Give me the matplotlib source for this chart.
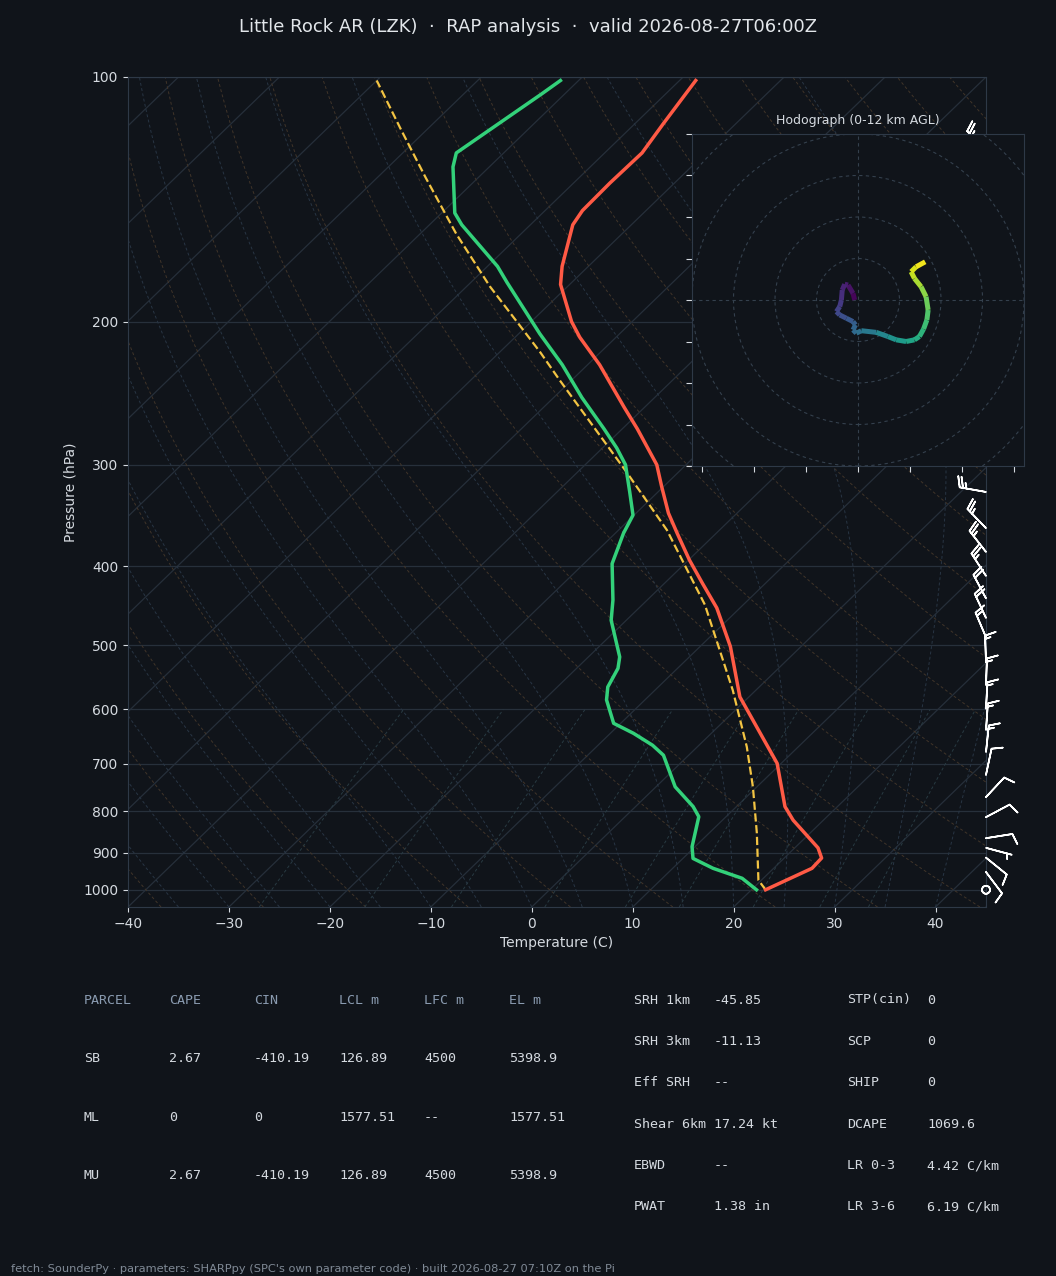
import numpy as np
import matplotlib
matplotlib.use("Agg")
import matplotlib.pyplot as plt
import matplotlib.transforms as mtransforms
from matplotlib.collections import LineCollection
from matplotlib.patches import Circle

BG = "#10141a"
FG = "#d5dae0"
MUTED = "#8a9bb0"
SPINE = "#2e3947"
GRID = "#27303b"

TITLE = "Little Rock AR (LZK)  \u00b7  RAP analysis  \u00b7  valid 2026-08-27T06:00Z"
FOOTER = ("fetch: SounderPy \u00b7 parameters: SHARPpy (SPC's own parameter code) "
          "\u00b7 built 2026-08-27 07:10Z on the Pi")

# --- sounding (hPa / degC) ---
temp_p = [1000, 941, 914, 888, 821, 790, 699, 579, 502, 450, 420, 393, 364, 344,
          319, 300, 271, 255, 226, 209, 200, 180, 171, 152, 146, 135, 124, 114, 101]
temp_c = [21.4, 23.8, 23.7, 22.3, 17.0, 14.8, 9.6, -0.9, -7.0, -12.3, -16.2, -19.9,
          -23.9, -26.8, -30.2, -32.9, -38.5, -42.0, -48.8, -53.6, -56.0, -60.9,
          -62.6, -65.8, -66.3, -66.4, -66.3, -67.2, -68.4]

dewp_p = [1000, 968, 941, 915, 885, 813, 790, 747, 683, 664, 642, 624, 584, 563,
          534, 517, 466, 440, 397, 364, 346, 324, 300, 286, 271, 248, 226, 207,
          179, 171, 152, 147, 129, 124, 105, 101]
dewp_c = [20.5, 17.9, 14.0, 11.0, 9.7, 7.3, 5.7, 1.9, -2.5, -4.6, -7.7, -10.7,
          -13.8, -15.0, -15.9, -16.9, -21.5, -23.4, -27.2, -29.2, -30.1, -32.8,
          -36.0, -38.6, -41.8, -47.2, -52.5, -57.9, -66.4, -69.0, -76.8, -78.7,
          -83.6, -84.7, -82.3, -81.8]

parcel_p = [1000, 973, 851, 747, 667, 568, 446, 361, 306, 236, 218, 181, 156, 133, 116, 101]
parcel_c = [21.4, 19.7, 14.7, 9.6, 4.9, -2.3, -13.8, -25.2, -35.2, -51.2, -56.0,
            -67.7, -76.4, -85.2, -92.6, -100.0]

# wind barbs (hPa, direction deg, speed kt)
barb_p = [123, 136, 152, 170, 190, 212, 236, 262, 290, 324, 359, 384, 411, 438,
          463, 489, 525, 560, 599, 636, 677, 722, 769, 814, 864, 888, 913, 951, 1000]
barb_dir = [315, 300, 295, 290, 288, 285, 285, 283, 282, 280, 316, 322, 327, 332,
            335, 337, 358, 2, 3, 4, 6, 12, 43, 62, 81, 105, 129, 143, 0]
barb_kt = [25, 25, 25, 25, 25, 25, 25, 25, 25, 25, 25, 25, 25, 20,
           20, 15, 15, 15, 15, 15, 15, 10, 10, 10, 10, 5, 10, 10, 0]

# hodograph (kt) and height (km AGL)
hodo_u = [-0.8, -1.2, -2.4, -3.2, -3.8, -4.0, -4.4, -5.2, -4.4, -2.8, -1.2, -0.6,
          -1.2, -0.4, 0.8, 4.4, 7.2, 9.2, 11.6, 13.6, 14.8, 15.8, 16.6, 16.9, 16.4,
          15.2, 13.6, 12.8, 14.0, 16.2]
hodo_v = [0.0, 1.6, 3.6, 3.8, 2.4, 0.0, -1.6, -2.8, -3.6, -4.4, -5.2, -6.0, -7.2,
          -8.0, -7.4, -7.8, -8.8, -9.6, -10.0, -9.6, -8.8, -7.0, -4.8, -2.4, 0.8,
          3.2, 5.2, 6.8, 8.0, 9.2]
hodo_z = [0.0, 0.34, 0.83, 1.0, 1.32, 1.82, 2.17, 2.47, 2.7, 3.08, 3.45, 3.67, 3.95,
          4.19, 4.47, 5.22, 5.85, 6.3, 6.8, 7.23, 7.53, 7.96, 8.45, 8.96, 9.64, 10.2,
          10.73, 11.1, 11.46, 12.0]

# parameter tables
parcel_cols = ["PARCEL", "CAPE", "CIN", "LCL m", "LFC m", "EL m"]
parcel_rows = [["SB", "2.67", "-410.19", "126.89", "4500", "5398.9"],
               ["ML", "0", "0", "1577.51", "--", "1577.51"],
               ["MU", "2.67", "-410.19", "126.89", "4500", "5398.9"]]
kin_names = ["SRH 1km", "SRH 3km", "Eff SRH", "Shear 6km", "EBWD", "PWAT"]
kin_vals = ["-45.85", "-11.13", "--", "17.24 kt", "--", "1.38 in"]
comp_names = ["STP(cin)", "SCP", "SHIP", "DCAPE", "LR 0-3", "LR 3-6"]
comp_vals = ["0", "0", "0", "1069.6", "4.42 C/km", "6.19 C/km"]


# thermodynamic reference lines
RD, CP, LV, EPS = 287.04, 1005.7, 2.501e6, 0.622


def _sat_mr(p, t):
    es = 6.112 * np.exp(17.67 * (t - 273.15) / (t - 29.65))
    return EPS * es / (p - es)


def _moist_dtdp(p, t):
    rs = _sat_mr(p, t)
    return (RD * t + LV * rs) / (p * (CP + LV * LV * rs * EPS / (RD * t * t)))


def moist_lines(t0, pres):
    t = np.asarray(t0, float) + 273.15
    out = [t.copy()]
    for p0, p1 in zip(pres[:-1], pres[1:]):
        h = p1 - p0
        k1 = _moist_dtdp(p0, t)
        k2 = _moist_dtdp(p0 + h / 2, t + h / 2 * k1)
        k3 = _moist_dtdp(p0 + h / 2, t + h / 2 * k2)
        k4 = _moist_dtdp(p1, t + h * k3)
        t = t + h / 6 * (k1 + 2 * k2 + 2 * k3 + k4)
        out.append(t.copy())
    return np.array(out) - 273.15


fig = plt.figure(figsize=(10.56, 12.76), dpi=100, facecolor=BG)
W, H = 1056, 1276

ax = fig.add_axes([128 / W, 1 - 907 / H, 858 / W, 830 / H], facecolor=BG)
ax.set_yscale("log")
ax.set_xlim(-40, 45)
ax.set_ylim(1050, 100)
sk = ax.transScale + (ax.transLimits + mtransforms.Affine2D().skew_deg(45, 0)) + ax.transAxes

# isotherms (skewed grid)
for t in range(-140, 50, 10):
    ax.plot([t, t], [1050, 100], transform=sk, color="#262f3a", lw=0.9, zorder=1)

dash = (0, (3, 2.5))
p_bg = np.geomspace(1050, 100, 150)
for th in range(-40, 190, 10):
    tt = (th + 273.15) * (p_bg / 1000.0) ** 0.2857 - 273.15
    ax.plot(tt, p_bg, transform=sk, color="#403429", lw=0.7, ls=dash, zorder=1)

ml = moist_lines(np.arange(-40, 46, 5), p_bg)
for i in range(ml.shape[1]):
    ax.plot(ml[:, i], p_bg, transform=sk, color="#283544", lw=0.7, ls=dash, zorder=1)

p_mix = np.linspace(1050, 600, 40)
for w in [0.0004, 0.001, 0.002, 0.004, 0.007, 0.01, 0.016, 0.024, 0.032]:
    le = np.log(w * p_mix / (EPS + w) / 6.112)
    ax.plot(243.5 * le / (17.67 - le), p_mix, transform=sk, color="#283a42",
            lw=0.7, ls=dash, zorder=1)

ax.plot(parcel_c, parcel_p, transform=sk, color="#f3c443", lw=1.6, ls="--", zorder=4)
ax.plot(temp_c, temp_p, transform=sk, color="#ff5a45", lw=2.5, zorder=5)
ax.plot(dewp_c, dewp_p, transform=sk, color="#33d17a", lw=2.5, zorder=5)

rad = np.deg2rad(barb_dir)
bu = -np.asarray(barb_kt) * np.sin(rad)
bv = -np.asarray(barb_kt) * np.cos(rad)
blend = mtransforms.blended_transform_factory(ax.transAxes, ax.transData)
ax.barbs(np.ones(len(barb_p)), barb_p, bu, bv, transform=blend, clip_on=False,
         length=6.2, color="white", lw=1.2, zorder=6)

ax.set_xlim(-40, 45)
ax.set_ylim(1050, 100)
ax.set_yticks([100, 200, 300, 400, 500, 600, 700, 800, 900, 1000])
ax.set_yticklabels(["100", "200", "300", "400", "500", "600", "700", "800", "900", "1000"])
ax.yaxis.set_minor_locator(matplotlib.ticker.NullLocator())
ax.set_xticks(range(-40, 41, 10))
ax.yaxis.grid(True, color=GRID, lw=0.9)
ax.set_axisbelow(True)
ax.tick_params(colors=FG, labelsize=10)
for s in ax.spines.values():
    s.set_color(SPINE)
ax.set_xlabel("Temperature (C)", color=FG, fontsize=10)
ax.set_ylabel("Pressure (hPa)", color=FG, fontsize=10)

# hodograph inset
axh = fig.add_axes([692 / W, 1 - 466 / H, 332 / W, 332 / H], facecolor=BG)
axh.set_xlim(-40, 40)
axh.set_ylim(-40, 40)
for r in range(10, 61, 10):
    axh.add_patch(Circle((0, 0), r, fill=False, ec="#34404d", lw=0.8, ls=(0, (3, 3))))
axh.axhline(0, color="#34404d", lw=0.8, ls=(0, (3, 3)))
axh.axvline(0, color="#34404d", lw=0.8, ls=(0, (3, 3)))
pts = np.column_stack([hodo_u, hodo_v])
segs = np.stack([pts[:-1], pts[1:]], axis=1)
zc = np.asarray(hodo_z)
lc = LineCollection(segs, cmap="viridis", norm=plt.Normalize(0, 12), lw=3.6, zorder=3)
lc.set_array(0.5 * (zc[:-1] + zc[1:]))
axh.add_collection(lc)
axh.set_xticks(np.arange(-37.5, 40, 12.5))
axh.set_yticks(np.arange(-40, 41, 10))
axh.tick_params(labelbottom=False, labelleft=False, colors=FG, length=4)
for s in axh.spines.values():
    s.set_color(SPINE)
axh.set_title("Hodograph (0-12 km AGL)", fontsize=9, color=FG, pad=7)

fig.text(0.5, 1 - 27 / H, TITLE, ha="center", va="center", fontsize=13, color="#e2e6ea")

# tables
mono = "DejaVu Sans Mono"
tsize = 9.6
for j, name in enumerate(parcel_cols):
    fig.text((84 + 85 * j) / W, 1 - 1000 / H, name, family=mono, fontsize=tsize,
             color=MUTED, va="center")
for i, row in enumerate(parcel_rows):
    for j, val in enumerate(row):
        fig.text((84 + 85 * j) / W, 1 - (1058.5 + 58.7 * i) / H, val, family=mono,
                 fontsize=tsize, color=FG, va="center")
for i in range(len(kin_names)):
    y = 1 - (1000 + 41.4 * i) / H
    fig.text(634 / W, y, kin_names[i], family=mono, fontsize=tsize, color=FG, va="center")
    fig.text(714 / W, y, kin_vals[i], family=mono, fontsize=tsize, color=FG, va="center")
    fig.text(847 / W, y, comp_names[i], family=mono, fontsize=tsize, color=FG, va="center")
    fig.text(927 / W, y, comp_vals[i], family=mono, fontsize=tsize, color=FG, va="center")

fig.text(11 / W, 1 - 1269 / H, FOOTER, fontsize=8.2, color="#808a96", va="center")

fig.savefig("out.png", dpi=100, facecolor=BG)
